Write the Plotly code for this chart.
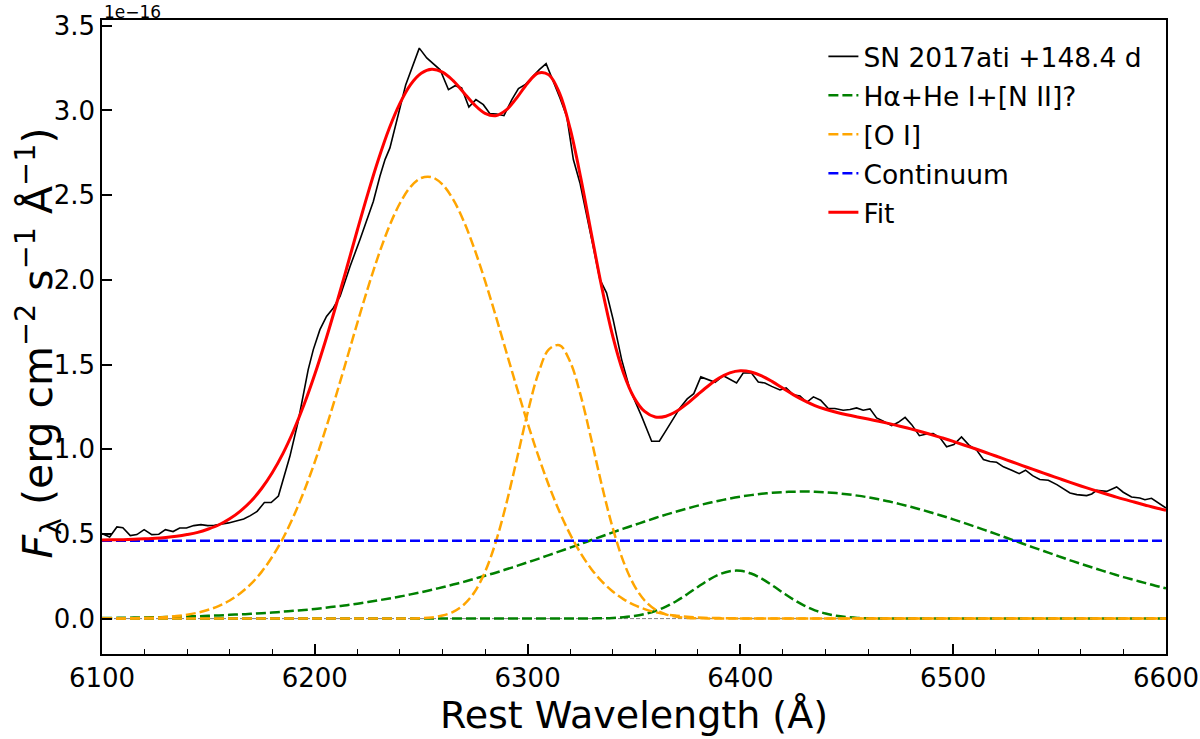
import plotly.graph_objects as go

# ---------------- data (flux in units of 1e-16) ----------------
obs_wave = [6100.0, 6103.6, 6107.0, 6109.8, 6113.3, 6116.4, 6119.8, 6123.4, 6126.7, 6129.8,
            6133.4, 6136.5, 6139.7, 6143.1, 6146.5, 6149.7, 6152.8, 6155.9, 6159.5, 6162.6,
            6166.6, 6169.7, 6172.9, 6176.3, 6179.5, 6182.9, 6188.3, 6192.2, 6194.6, 6196.9,
            6199.3, 6202.4, 6205.5, 6208.7, 6211.9, 6214.3, 6216.6, 6221.2, 6224.4, 6227.5,
            6230.6, 6233.0, 6235.3, 6238.5, 6242.7, 6249.1, 6252.6, 6258.9, 6262.8, 6265.9,
            6269.0, 6272.4, 6275.7, 6279.2, 6282.3, 6285.4, 6288.9, 6292.6, 6295.7, 6298.8,
            6302.4, 6305.5, 6308.7, 6312.1, 6315.2, 6318.4, 6321.5, 6324.6, 6327.7, 6330.8,
            6334.0, 6337.1, 6340.2, 6344.2, 6348.1, 6353.6, 6358.3, 6361.9, 6365.3, 6371.6,
            6375.0, 6378.1, 6381.4, 6388.1, 6392.0, 6395.1, 6398.2, 6401.3, 6405.2, 6408.4,
            6411.5, 6414.7, 6418.6, 6421.5, 6424.8, 6428.0, 6431.2, 6434.3, 6437.7, 6441.3,
            6444.4, 6448.3, 6451.5, 6454.6, 6457.7, 6460.9, 6464.0, 6467.2, 6471.1, 6474.2,
            6477.4, 6480.5, 6484.1, 6487.5, 6490.6, 6493.8, 6496.9, 6500.3, 6503.9, 6507.4,
            6511.0, 6514.2, 6517.3, 6520.4, 6523.6, 6527.5, 6531.0, 6534.0, 6537.3, 6540.7,
            6544.7, 6548.7, 6551.8, 6554.9, 6558.1, 6562.7, 6565.1, 6567.4, 6572.1, 6576.8,
            6579.9, 6583.8, 6587.7, 6590.1, 6593.2, 6597.1, 6600.0]
obs_flux = [0.502, 0.482, 0.541, 0.537, 0.490, 0.496, 0.525, 0.496, 0.498, 0.525,
            0.514, 0.535, 0.535, 0.549, 0.555, 0.549, 0.551, 0.557, 0.565, 0.575,
            0.588, 0.608, 0.633, 0.685, 0.685, 0.724, 0.958, 1.165, 1.332, 1.470,
            1.588, 1.706, 1.784, 1.834, 1.903, 2.000, 2.080, 2.237, 2.355, 2.463,
            2.611, 2.710, 2.779, 2.946, 3.150, 3.368, 3.310, 3.240, 3.123, 3.146,
            3.133, 3.020, 3.064, 3.034, 2.981, 2.979, 2.969, 3.064, 3.129, 3.152,
            3.201, 3.241, 3.276, 3.172, 3.074, 2.965, 2.710, 2.572, 2.395, 2.198,
            2.001, 1.923, 1.765, 1.529, 1.352, 1.194, 1.047, 1.047, 1.116, 1.244,
            1.297, 1.328, 1.427, 1.395, 1.434, 1.411, 1.391, 1.450, 1.450, 1.397,
            1.391, 1.371, 1.350, 1.362, 1.322, 1.314, 1.277, 1.309, 1.289, 1.240,
            1.240, 1.230, 1.234, 1.244, 1.230, 1.238, 1.185, 1.165, 1.139, 1.159,
            1.188, 1.145, 1.080, 1.090, 1.092, 1.067, 1.014, 1.027, 1.073, 1.024,
            0.995, 0.939, 0.927, 0.923, 0.896, 0.876, 0.856, 0.876, 0.844, 0.821,
            0.817, 0.791, 0.766, 0.742, 0.732, 0.726, 0.736, 0.757, 0.751, 0.777,
            0.746, 0.718, 0.712, 0.702, 0.710, 0.679, 0.653]

model_wave = [6100, 6105, 6110, 6115, 6120, 6125, 6130, 6135, 6140, 6145,
              6150, 6155, 6160, 6165, 6170, 6175, 6180, 6185, 6190, 6195,
              6200, 6205, 6210, 6215, 6220, 6225, 6230, 6235, 6240, 6245,
              6250, 6255, 6260, 6265, 6270, 6275, 6280, 6285, 6290, 6295,
              6300, 6305, 6310, 6315, 6320, 6325, 6330, 6335, 6340, 6345,
              6350, 6355, 6360, 6365, 6370, 6375, 6380, 6385, 6390, 6395,
              6400, 6405, 6410, 6415, 6420, 6425, 6430, 6435, 6440, 6445,
              6450, 6455, 6460, 6465, 6470, 6475, 6480, 6485, 6490, 6495,
              6500, 6505, 6510, 6515, 6520, 6525, 6530, 6535, 6540, 6545,
              6550, 6555, 6560, 6565, 6570, 6575, 6580, 6585, 6590, 6595,
              6600]
oi_blue = [0.000, 0.001, 0.001, 0.002, 0.004, 0.006, 0.010, 0.015, 0.023, 0.035,
           0.052, 0.075, 0.107, 0.150, 0.205, 0.276, 0.365, 0.473, 0.603, 0.754,
           0.925, 1.115, 1.318, 1.531, 1.746, 1.954, 2.147, 2.316, 2.452, 2.549,
           2.601, 2.606, 2.563, 2.475, 2.346, 2.183, 1.994, 1.788, 1.574, 1.361,
           1.154, 0.962, 0.786, 0.631, 0.497, 0.385, 0.292, 0.218, 0.160, 0.115,
           0.081, 0.056, 0.038, 0.025, 0.017, 0.011, 0.007, 0.004, 0.003, 0.002,
           0.001, 0.001, 0, 0, 0, 0, 0, 0, 0, 0,
           0, 0, 0, 0, 0, 0, 0, 0, 0, 0,
           0, 0, 0, 0, 0, 0, 0, 0, 0, 0,
           0, 0, 0, 0, 0, 0, 0, 0, 0, 0,
           0]
oi_red = [0, 0, 0, 0, 0, 0, 0, 0, 0, 0,
          0, 0, 0, 0, 0, 0, 0, 0, 0, 0,
          0, 0, 0, 0, 0, 0, 0, 0, 0.000, 0.001,
          0.003, 0.007, 0.018, 0.040, 0.082, 0.156, 0.276, 0.450, 0.678, 0.944,
          1.215, 1.446, 1.589, 1.614, 1.516, 1.315, 1.054, 0.781, 0.535, 0.338,
          0.198, 0.107, 0.053, 0.025, 0.011, 0.004, 0.002, 0.001, 0.000, 0,
          0, 0, 0, 0, 0, 0, 0, 0, 0, 0,
          0, 0, 0, 0, 0, 0, 0, 0, 0, 0,
          0, 0, 0, 0, 0, 0, 0, 0, 0, 0,
          0, 0, 0, 0, 0, 0, 0, 0, 0, 0,
          0]
h_narrow = [0, 0, 0, 0, 0, 0, 0, 0, 0, 0,
            0, 0, 0, 0, 0, 0, 0, 0, 0, 0,
            0, 0, 0, 0, 0, 0, 0, 0, 0, 0,
            0, 0, 0, 0, 0, 0, 0, 0, 0, 0,
            0, 0, 0, 0, 0, 0.000, 0.001, 0.002, 0.004, 0.008,
            0.015, 0.027, 0.045, 0.071, 0.104, 0.144, 0.187, 0.228, 0.261, 0.280,
            0.282, 0.266, 0.236, 0.196, 0.153, 0.112, 0.077, 0.049, 0.030, 0.017,
            0.009, 0.004, 0.002, 0.001, 0.000, 0, 0, 0, 0, 0,
            0, 0, 0, 0, 0, 0, 0, 0, 0, 0,
            0, 0, 0, 0, 0, 0, 0, 0, 0, 0,
            0]
h_broad = [0.004, 0.004, 0.005, 0.006, 0.007, 0.008, 0.009, 0.011, 0.013, 0.014,
           0.017, 0.019, 0.022, 0.025, 0.028, 0.032, 0.036, 0.041, 0.046, 0.051,
           0.057, 0.064, 0.072, 0.079, 0.088, 0.098, 0.108, 0.119, 0.130, 0.143,
           0.156, 0.170, 0.185, 0.201, 0.217, 0.235, 0.253, 0.271, 0.291, 0.311,
           0.332, 0.353, 0.375, 0.397, 0.419, 0.441, 0.464, 0.486, 0.509, 0.531,
           0.552, 0.573, 0.594, 0.614, 0.632, 0.650, 0.667, 0.682, 0.696, 0.709,
           0.720, 0.729, 0.737, 0.743, 0.747, 0.749, 0.750, 0.749, 0.746, 0.741,
           0.734, 0.726, 0.716, 0.704, 0.691, 0.676, 0.660, 0.643, 0.625, 0.606,
           0.586, 0.565, 0.544, 0.522, 0.500, 0.477, 0.455, 0.432, 0.410, 0.388,
           0.366, 0.344, 0.323, 0.303, 0.283, 0.264, 0.245, 0.228, 0.211, 0.194,
           0.179]
continuum_level = 0.46

x_ticks = [6100, 6200, 6300, 6400, 6500, 6600]
y_ticks = [0.0, 0.5, 1.0, 1.5, 2.0, 2.5, 3.0, 3.5]

continuum = [continuum_level] * len(model_wave)
fit = [a + b + c + d + continuum_level
       for a, b, c, d in zip(oi_blue, oi_red, h_narrow, h_broad)]

FONT = "DejaVu Sans"
GREEN, ORANGE, BLUE = "#008000", "#FFA500", "#0000FF"
DASH = "10px,4px"

fig = go.Figure()
fig.add_trace(go.Scatter(x=[model_wave[0], model_wave[-1]], y=[0, 0], mode="lines",
                         line=dict(color="gray", width=1, dash="4px,2px"),
                         showlegend=False, hoverinfo="skip", legendgroup="g0"))
fig.add_trace(go.Scatter(x=obs_wave, y=obs_flux, mode="lines", name="SN 2017ati +148.4 d",
                         line=dict(color="black", width=1.6), legendrank=1,
                         legendgroup="g1"))
fig.add_trace(go.Scatter(x=model_wave, y=h_broad, mode="lines", name="Hα+He I+[N II]?",
                         line=dict(color=GREEN, width=2.5, dash=DASH, shape="spline"),
                         legendrank=2, legendgroup="g2"))
fig.add_trace(go.Scatter(x=model_wave, y=h_narrow, mode="lines", name="Hα narrow",
                         line=dict(color=GREEN, width=2.5, dash=DASH, shape="spline"),
                         showlegend=False, legendgroup="g2"))
fig.add_trace(go.Scatter(x=model_wave, y=oi_blue, mode="lines", name="[O I]",
                         line=dict(color=ORANGE, width=2.5, dash=DASH, shape="spline"),
                         legendrank=3, legendgroup="g3"))
fig.add_trace(go.Scatter(x=model_wave, y=oi_red, mode="lines", name="[O I] 6364",
                         line=dict(color=ORANGE, width=2.5, dash=DASH, shape="spline"),
                         showlegend=False, legendgroup="g3"))
fig.add_trace(go.Scatter(x=model_wave, y=continuum, mode="lines", name="Continuum",
                         line=dict(color=BLUE, width=2.5, dash=DASH), legendrank=4,
                         legendgroup="g4"))
fig.add_trace(go.Scatter(x=model_wave, y=fit, mode="lines", name="Fit",
                         line=dict(color="red", width=3, shape="spline"), legendrank=5,
                         legendgroup="g5"))

axis_common = dict(showline=True, mirror=True, linecolor="black", linewidth=1.5,
                   ticks="inside", ticklen=10, tickwidth=1.5, tickcolor="black",
                   showgrid=False, zeroline=False, automargin=False,
                   tickfont=dict(family=FONT, size=26, color="black"))
fig.update_xaxes(range=[6100, 6600], tickvals=x_ticks,
                 ticktext=[str(v) for v in x_ticks],
                 minor=dict(ticks="inside", ticklen=5, tickwidth=1.2, dtick=20,
                            tick0=6100, tickcolor="black"),
                 **axis_common)
fig.update_yaxes(range=[-0.209, 3.534], tickvals=y_ticks,
                 ticktext=[f"{v:.1f}" for v in y_ticks], **axis_common)

fig.update_layout(
    width=1200, height=739,
    margin=dict(l=102, r=34, t=20, b=85),
    paper_bgcolor="white", plot_bgcolor="white",
    font=dict(family=FONT, color="black"),
    legend=dict(x=0.678, y=0.980, xanchor="left", yanchor="top",
                traceorder="grouped", tracegroupgap=1.5,
                bgcolor="rgba(0,0,0,0)", borderwidth=0,
                font=dict(family=FONT, size=26.5, color="black")),
    annotations=[
        dict(text="Rest Wavelength (Å)", xref="paper", yref="paper", x=0.5, y=-0.097,
             xanchor="center", yanchor="middle", showarrow=False,
             font=dict(family=FONT, size=38, color="black")),
        dict(text="<i>F</i><sub>λ</sub> (erg cm<sup>−2</sup> s<sup>−1</sup> Å<sup>−1</sup>)",
             xref="paper", yref="paper", x=-0.06, y=0.49, textangle=-90,
             xanchor="center", yanchor="middle", showarrow=False,
             font=dict(family=FONT, size=41, color="black")),
        dict(text="1e−16", xref="paper", yref="paper", x=0.0, y=1.0315,
             xanchor="left", yanchor="top", showarrow=False,
             font=dict(family=FONT, size=17, color="black")),
    ],
)

fig.write_html("out.html")
